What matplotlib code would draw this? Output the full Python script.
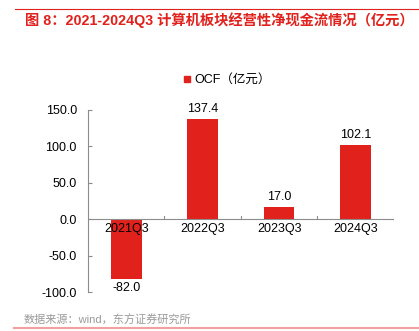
import matplotlib.pyplot as plt
from matplotlib.lines import Line2D

plt.rcParams['font.family'] = ['Liberation Sans', 'Noto Sans CJK SC', 'DejaVu Sans']

# OCF by year (亿元)
quarters = ['2021Q3', '2022Q3', '2023Q3', '2024Q3']
ocf = [-82.0, 137.4, 17.0, 102.1]
yticks = [-100, -50, 0, 50, 100, 150]

bar_color = '#E1211C'
title_color = '#E1211C'
axis_color = '#8C8C8C'

fig = plt.figure(figsize=(4.19, 3.31), dpi=100)
ax = fig.add_axes([0.21, 0.1178, 0.730, 0.5512])

x = list(range(len(quarters)))
ax.bar(x, ocf, width=0.4, color=bar_color, zorder=2)

for xi, v in zip(x, ocf):
    if v >= 0:
        ax.text(xi, v + 5, f'{v:.1f}', ha='center', va='bottom', fontsize=9,
                clip_on=False)
    else:
        ax.text(xi, v - 4, f'{v:.1f}', ha='center', va='top', fontsize=9,
                clip_on=False)

ax.set_xlim(-0.5, 3.5)
ax.set_ylim(-100, 150)
ax.set_yticks(yticks)
ax.set_yticklabels([f'{t:.1f}' for t in yticks], fontsize=9)
ax.tick_params(axis='y', direction='in', length=3, color=axis_color, pad=8)

# category labels sit just under the zero line
ax.set_xticks([])
for xi, q in zip(x, quarters):
    ax.text(xi, -6, q, ha='center', va='top', fontsize=9, zorder=3)

ax.axhline(0, color=axis_color, lw=0.8, zorder=3)
for b in [0.5, 1.5, 2.5, 3.5]:
    ax.plot([b, b], [0, 4], color=axis_color, lw=0.8, zorder=3)

for s in ['top', 'right', 'bottom']:
    ax.spines[s].set_visible(False)
ax.spines['left'].set_color(axis_color)
ax.spines['left'].set_linewidth(0.8)

# legend
handle = Line2D([], [], marker='s', color=bar_color, ls='none', markersize=4)
fig.legend([handle], ['OCF（亿元）'], loc='center left',
           bbox_to_anchor=(0.416, 1 - 80 / 331), frameon=False, fontsize=9,
           handletextpad=0.0, handlelength=1.2, borderaxespad=0)

# header and footer
fig.add_artist(Line2D([15 / 419, 1], [1 - 9 / 331, 1 - 9 / 331],
                      color='#E1211C', lw=0.8))
fig.text(25 / 419, 1 - 20 / 331, '图 8：2021-2024Q3 计算机板块经营性净现金流情况（亿元）',
         color=title_color, fontsize=10.3, fontweight='bold', va='center',
         family=['Liberation Sans', 'Noto Sans CJK SC', 'DejaVu Sans'])
fig.text(24 / 419, 1 - 320 / 331, '数据来源：wind，东方证券研究所',
         color='#9A9A9A', fontsize=8, va='center',
         family=['Liberation Sans', 'Noto Sans CJK SC', 'DejaVu Sans'])
fig.add_artist(Line2D([14 / 419, 1], [1 - 328 / 331, 1 - 328 / 331],
                      color='#F2A0A0', lw=1.5))

fig.savefig('out.png', dpi=100)
